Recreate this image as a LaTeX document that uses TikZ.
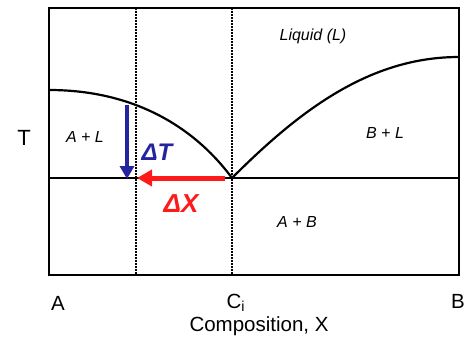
\documentclass[tikz,border=0pt]{standalone}
\usepackage{fontspec}
\setmainfont{Liberation Sans}
\usepackage{tikz}
\usetikzlibrary{arrows.meta}
\definecolor{dtblue}{HTML}{2424A0}
\definecolor{dxred}{HTML}{FF1A1A}

\begin{document}
\begin{tikzpicture}[x=1pt, y=-1pt,
    phase/.style={font=\fontsize{16}{18}\selectfont\itshape},
    axlbl/.style={font=\fontsize{20.5}{23}\selectfont},
    curve/.style={line width=2.2pt},
    guide/.style={line width=1.8pt, dash pattern=on 1.5pt off 1.5pt},
    arr/.style={-{Triangle[length=13pt, width=14pt]}, line width=4pt}
]
\useasboundingbox (0,0) rectangle (468,338);
\coordinate (nw) at (49,8);
\coordinate (se) at (459,275);
\coordinate (eut) at (232,178);
\coordinate (eutL) at (49,178);
\coordinate (eutR) at (459,178);
\coordinate (tA) at (49,90);
\coordinate (tB) at (459,57);
\coordinate (ciTop) at (232,8);
\coordinate (ciBot) at (232,275);
\coordinate (xTop) at (136,8);
\coordinate (xBot) at (136,275);
\coordinate (dtStart) at (127,105);
\coordinate (dtEnd) at (127,179);
\coordinate (dxStart) at (225,178);
\coordinate (dxEnd) at (137,178);

% frame and guides
\draw[line width=1.4pt] (nw) rectangle (se);
\draw[guide] (xTop) -- (xBot);
\draw[guide] (ciTop) -- (ciBot);

% liquidus and eutectic
\draw[curve] (tA) .. controls (135,90) and (195,128) .. (eut)
             .. controls (300,110) and (370,57) .. (tB);
\draw[curve] (eutL) -- (eutR);

% undercooling arrows
\draw[arr, dtblue] (dtStart) -- (dtEnd);
\draw[arr, dxred, line width=5pt, -{Triangle[length=15pt, width=16pt]}] (dxStart) -- (dxEnd);

\node[phase] (liq) at (313,36) {Liquid (L)};
\node[phase] (al) at (85,137) {A + L};
\node[phase] (bl) at (385,133) {B + L};
\node[phase] (ab) at (297,222) {A + B};
\node[font=\fontsize{24}{26}\selectfont\bfseries\itshape, text=dtblue] (dT) at (157,152) {ΔT};
\node[font=\fontsize{26}{28}\selectfont\bfseries\itshape, text=dxred] (dX) at (181,204) {ΔX};

\node[axlbl, font=\fontsize{22}{24}\selectfont] (tax) at (24,138) {T};
\node[axlbl] (xa) at (58,303) {A};
\node[axlbl, anchor=west] (xci) at (223,303) {C\textsubscript{i}};
\node[axlbl] (xb) at (458,301) {B};
\node[axlbl] (xlbl) at (259,326) {Composition, X};
\end{tikzpicture}
\end{document}
